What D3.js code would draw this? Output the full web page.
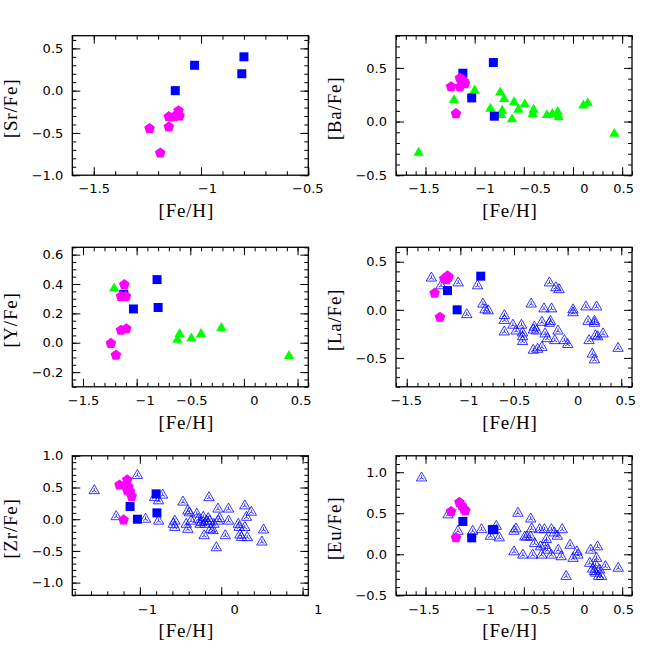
<!DOCTYPE html>
<html>
<head>
<meta charset="utf-8">
<script src="https://cdn.jsdelivr.net/npm/d3@7"></script>
<style>
body{margin:0;background:#fff;}
</style>
</head>
<body>
<svg id="mainSvg" width="667" height="667"></svg>
<script>
//Values: [ [Fe/H], [X/Fe] ] pairs
var srSquares = [[-0.80,0.40],[-0.81,0.20],[-1.03,0.30],[-1.12,0.00]];
var srPentagons = [[-1.105,-0.23],[-1.15,-0.30],[-1.125,-0.30],[-1.10,-0.29],[-1.15,-0.42],[-1.24,-0.44],[-1.19,-0.73]];

var baSquares = [[-0.81,0.55],[-1.12,0.45],[-1.03,0.22],[-0.80,0.05]];
var baPentagons = [[-1.24,0.33],[-1.15,0.41],[-1.11,0.38],[-1.10,0.36],[-1.15,0.33],[-1.13,0.40],[-1.19,0.08]];
var baTriangles = [[-1.57,-0.29],[-1.21,0.20],[-1.00,0.29],[-0.84,0.12],[-0.74,0.27],[-0.70,0.21],[-0.72,0.10],[-0.73,0.06],
    [-0.60,0.18],[-0.555,0.11],[-0.62,0.02],[-0.49,0.16],[-0.40,0.11],[-0.41,0.07],[-0.265,0.06],[-0.21,0.07],
    [-0.155,0.09],[-0.145,0.04],[0.105,0.15],[0.15,0.17],[0.42,-0.115]];

var ySquares = [[-0.81,0.43],[-0.80,0.24],[-1.03,0.23],[-1.12,0.33]];
var yPentagons = [[-1.115,0.40],[-1.146,0.32],[-1.10,0.32],[-1.146,0.09],[-1.097,0.10],[-1.24,0.00],[-1.193,-0.08]];
var yTriangles = [[-1.21,0.37],[-0.62,0.02],[-0.60,0.06],[-0.49,0.03],[-0.40,0.06],[-0.21,0.10],[0.42,-0.09]];

var laSquares = [[-0.81,0.35],[-1.12,0.20],[-1.03,0.00]];
var laPentagons = [[-1.15,0.33],[-1.11,0.345],[-1.13,0.32],[-1.12,0.36],[-1.24,0.18],[-1.19,-0.07]];
var laField = [[-1.27,0.33],[-1.18,0.25],[-1.02,0.28],[-0.84,0.25],[-0.79,0.06],[-0.77,0.00],[-0.74,-0.01],[-0.94,-0.05],
    [-0.59,-0.06],[-0.59,-0.11],[-0.59,-0.23],[-0.51,-0.16],[-0.48,-0.22],[-0.43,-0.16],[-0.42,-0.24],[-0.42,-0.28],
    [-0.42,-0.33],[-0.34,0.06],[-0.32,-0.21],[-0.31,-0.18],[-0.29,-0.22],[-0.32,-0.42],[-0.28,-0.41],[-0.24,-0.39],
    [-0.24,-0.13],[-0.22,0.01],[-0.21,-0.25],[-0.19,-0.30],[-0.17,-0.14],[-0.16,-0.12],[-0.17,0.28],[-0.15,0.01],
    [-0.12,-0.32],[-0.11,0.23],[-0.09,-0.22],[-0.08,0.21],[-0.03,-0.32],[0.00,-0.36],[0.05,0.00],[0.05,-0.03],
    [0.17,0.03],[0.19,-0.12],[0.20,-0.32],[0.23,-0.46],[0.25,-0.52],[0.25,-0.12],[0.25,-0.14],[0.26,-0.27],
    [0.27,0.03],[0.28,-0.28],[0.33,-0.25],[0.47,-0.40]];

var zrSquares = [[-0.80,0.40],[-0.79,0.10],[-1.12,0.20],[-1.03,0.00]];
var zrPentagons = [[-1.25,0.55],[-1.155,0.63],[-1.155,0.47],[-1.12,0.445],[-1.10,0.37],[-1.20,0.00],[-1.14,0.52]];
var zrField = [[-1.56,0.45],[-1.29,0.04],[-1.03,0.69],[-0.93,0.00],[-0.82,0.34],[-0.77,0.29],[-0.72,0.38],[-0.77,-0.03],
    [-0.59,-0.08],[-0.57,-0.03],[-0.57,-0.13],[-0.47,0.27],[-0.43,-0.08],[-0.41,-0.16],[-0.41,0.13],[-0.39,0.10],
    [-0.37,-0.03],[-0.30,0.08],[-0.28,0.00],[-0.26,-0.08],[-0.24,-0.05],[-0.22,0.03],[-0.21,-0.26],[-0.20,-0.08],
    [-0.18,-0.03],[-0.16,0.01],[-0.15,0.34],[-0.14,-0.03],[-0.13,-0.16],[-0.10,-0.18],[-0.09,-0.08],[-0.06,-0.45],
    [-0.04,0.16],[-0.04,-0.03],[-0.02,0.01],[0.05,-0.26],[0.09,0.16],[0.09,-0.03],[0.21,-0.08],[0.22,-0.13],
    [0.23,-0.25],[0.25,-0.29],[0.29,0.21],[0.29,-0.13],[0.31,0.03],[0.32,-0.29],[0.37,0.11],[0.52,-0.17],[0.50,-0.36]];

var euSquares = [[-1.12,0.40],[-1.03,0.20],[-0.805,0.30],[-0.82,0.30]];
var euPentagons = [[-1.24,0.53],[-1.155,0.64],[-1.13,0.60],[-1.11,0.56],[-1.095,0.54],[-1.19,0.21]];
var euField = [[-1.54,0.93],[-1.27,0.48],[-1.17,0.28],[-1.02,0.28],[-0.93,0.30],[-0.84,0.22],[-0.78,0.34],[-0.75,0.20],
    [-0.60,0.28],[-0.58,0.31],[-0.60,0.03],[-0.56,0.50],[-0.51,-0.01],[-0.49,0.21],[-0.47,0.21],[-0.43,0.43],
    [-0.42,0.31],[-0.43,0.21],[-0.41,-0.01],[-0.39,0.13],[-0.34,0.30],[-0.33,0.09],[-0.32,-0.01],[-0.29,0.30],
    [-0.28,0.11],[-0.27,0.18],[-0.26,0.05],[-0.22,-0.01],[-0.22,0.30],[-0.19,0.26],[-0.16,0.22],[-0.15,0.05],
    [-0.12,-0.03],[-0.11,0.30],[-0.07,-0.27],[-0.03,0.11],[0.00,-0.05],[0.04,0.03],[0.05,-0.01],[0.17,-0.11],
    [0.18,0.05],[0.20,-0.18],[0.22,-0.21],[0.23,-0.13],[0.24,-0.05],[0.25,0.09],[0.26,-0.27],[0.29,-0.27],
    [0.33,-0.15],[0.46,-0.17],[0.23,-0.23],[0.27,-0.19]];

//Axis titles and major tick values
var yTitles = ["[Sr/Fe]","[Ba/Fe]","[Y/Fe]","[La/Fe]","[Zr/Fe]","[Eu/Fe]"];
var xTitle = "[Fe/H]";
var srXTicks = [-1.5,-1,-0.5], srYTicks = [-1,-0.5,0,0.5];
var baXTicks = [-1.5,-1,-0.5,0,0.5], baYTicks = [-0.5,0,0.5];
var yXTicks = [-1.5,-1,-0.5,0,0.5], yYTicks = [-0.2,0,0.2,0.4,0.6];
var laXTicks = [-1.5,-1,-0.5,0,0.5], laYTicks = [-0.5,0,0.5];
var zrXTicks = [-1,0,1], zrYTicks = [-1,-0.5,0,0.5,1];
var euXTicks = [-1.5,-1,-0.5,0,0.5], euYTicks = [-0.5,0,0.5,1];

var FONT_TICK = "DejaVu Sans";
var FONT_TITLE = "Liberation Serif";

/** Constructor for one panel of the figure
 * svg: d3 selection of the main svg
 * left, top, width, height: frame of the plotting box in pixels
 */
function Panel(svg,left,top,width,height) {
    this.g = svg.append("g").attr("transform","translate("+left+","+top+")");
    this.w = width;
    this.h = height;
}

//Multiples of step inside the domain (used for the small ticks)
function minorTicks(dom,step){
    var lo = Math.ceil(dom[0]/step - 1e-6), hi = Math.floor(dom[1]/step + 1e-6);
    return d3.range(lo,hi+1).map(function (i){return +(i*step).toFixed(4)});
}

/** Draw box, ticks and labels
 * p: {xDom, yDom, xTicks, yTicks, xMinor, yMinor, yTitle, shift}
 * shift: horizontal nudge of each x label (the original plot sets them a bit off the ticks) */
Panel.prototype.axes = function (p){
    var ref = this;
    this.x = d3.scaleLinear().domain(p.xDom).range([0,this.w]);
    this.y = d3.scaleLinear().domain(p.yDom).range([this.h,0]);
    var xm = minorTicks(p.xDom,p.xMinor), ym = minorTicks(p.yDom,p.yMinor);
    var xf = d3.format("~g"), yf = d3.format(".1f");

    //small ticks on all four sides, pointing inward
    this.g.append("g").attr("transform","translate(0,"+this.h+")").call(d3.axisBottom(this.x).tickValues(xm).tickSize(-4).tickFormat(""));
    this.g.append("g").call(d3.axisTop(this.x).tickValues(xm).tickSize(-4).tickFormat(""));
    this.g.append("g").call(d3.axisLeft(this.y).tickValues(ym).tickSize(-4).tickFormat(""));
    this.g.append("g").attr("transform","translate("+this.w+",0)").call(d3.axisRight(this.y).tickValues(ym).tickSize(-4).tickFormat(""));
    //big ticks, labelled on bottom and left
    var bx = this.g.append("g").attr("class","lab").attr("transform","translate(0,"+this.h+")")
        .call(d3.axisBottom(this.x).tickValues(p.xTicks).tickSize(-8).tickPadding(9).tickFormat(xf));
    bx.selectAll(".tick text").attr("x",function (d,i){return p.shift[i]});
    this.g.append("g").call(d3.axisTop(this.x).tickValues(p.xTicks).tickSize(-8).tickFormat(""));
    this.g.append("g").attr("class","lab")
        .call(d3.axisLeft(this.y).tickValues(p.yTicks).tickSize(-8).tickPadding(9).tickFormat(yf));
    this.g.append("g").attr("transform","translate("+this.w+",0)").call(d3.axisRight(this.y).tickValues(p.yTicks).tickSize(-8).tickFormat(""));

    this.g.selectAll(".domain").remove();
    this.g.selectAll(".tick line").attr("stroke","#000").attr("stroke-width",1);
    this.g.selectAll(".lab text").style("font-family",FONT_TICK).style("font-size","13px").attr("fill","#000");

    this.g.append("rect").attr("width",this.w).attr("height",this.h)
        .style("fill","none").style("stroke","#000").style("stroke-width",1.3);

    //axis titles
    this.g.append("text").text(xTitle).attr("x",this.w/2-4).attr("y",this.h+42)
        .attr("text-anchor","middle").style("font-family",FONT_TITLE).style("font-size","19px").style("letter-spacing","0.8px");
    this.g.append("text").text(p.yTitle)
        .attr("transform","translate("+(-60+5)+","+(ref.h/2+3)+") rotate(-90)")
        .attr("text-anchor","middle").style("font-family",FONT_TITLE).style("font-size","19px").style("letter-spacing","0.8px");
}

//Marker shapes
var pentagon = (function (){
    var r = 5.6, pts = [];
    for (var i=0;i<5;i++){
        var a = -Math.PI/2 + i*2*Math.PI/5;
        pts.push([r*Math.cos(a), r*Math.sin(a)+0.7]);
    }
    return "M"+pts.join("L")+"Z";
})();
var filledTri = d3.symbol().type(d3.symbolTriangle).size(46)();
var openTri = (function (){
    //outline triangle with short lines from the centre to the corners
    var r = 6, pts = [];
    for (var i=0;i<3;i++){
        var a = -Math.PI/2 + i*2*Math.PI/3;
        pts.push([r*Math.cos(a), r*Math.sin(a)]);
    }
    var p = "M"+pts.join("L")+"Z";
    pts.forEach(function (q){ p += "M0,0L"+q[0]*0.45+","+q[1]*0.45; });
    return p;
})();

//Draw one group of points with the given path
Panel.prototype.points = function (data,path,fill,stroke,sw){
    var ref = this;
    this.g.append("g").selectAll("path").data(data).enter().append("path")
        .attr("d",path)
        .attr("transform",function (d){return "translate("+ref.x(d[0])+","+ref.y(d[1])+")"})
        .style("fill",fill).style("stroke",stroke).style("stroke-width",sw);
}

Panel.prototype.squares = function (data){
    var ref = this, s = 9;
    this.g.append("g").selectAll("rect").data(data).enter().append("rect")
        .attr("x",function (d){return ref.x(d[0])-s/2}).attr("y",function (d){return ref.y(d[1])-s/2})
        .attr("width",s).attr("height",s).style("fill","#0000ff");
}

var svg = d3.select("#mainSvg");
var colL = 72.3, colR = 396, W = 236, H = 139.5;
var rows = [35.7, 247.3, 455.8];

//[Sr/Fe]
var p1 = new Panel(svg,colL,rows[0],W,H);
p1.axes({xDom:[-1.6,-0.5],yDom:[-1,0.65],xTicks:srXTicks,yTicks:srYTicks,xMinor:0.1,yMinor:0.1,yTitle:yTitles[0],
    shift:[0,6,-1]});
p1.squares(srSquares);
p1.points(srPentagons,pentagon,"#ff00ff","none",0);

//[Ba/Fe]
var p2 = new Panel(svg,colR,rows[0],W,H);
p2.axes({xDom:[-1.8,0.6],yDom:[-0.5,0.8],xTicks:baXTicks,yTicks:baYTicks,xMinor:0.1,yMinor:0.1,yTitle:yTitles[1],
    shift:[-2,10,11,11,1]});
p2.points(baTriangles,filledTri,"#00ff00","none",0);
p2.squares(baSquares);
p2.points(baPentagons,pentagon,"#ff00ff","none",0);

//[Y/Fe]
var p3 = new Panel(svg,colL,rows[1],W,H);
p3.axes({xDom:[-1.6,0.6],yDom:[-0.3,0.65],xTicks:yXTicks,yTicks:yYTicks,xMinor:0.1,yMinor:0.05,yTitle:yTitles[2],
    shift:[0,8,1,10,3]});
p3.points(yTriangles,filledTri,"#00ff00","none",0);
p3.squares(ySquares);
p3.points(yPentagons,pentagon,"#ff00ff","none",0);

//[La/Fe]
var p4 = new Panel(svg,colR,rows[1],W,H);
p4.axes({xDom:[-1.6,0.6],yDom:[-0.8,0.65],xTicks:laXTicks,yTicks:laYTicks,xMinor:0.1,yMinor:0.1,yTitle:yTitles[3],
    shift:[-1,8,0,10,4]});
p4.points(laField,openTri,"none","#0000ff",0.8);
p4.squares(laSquares);
p4.points(laPentagons,pentagon,"#ff00ff","none",0);

//[Zr/Fe]
var p5 = new Panel(svg,colL,rows[2],W,H);
p5.axes({xDom:[-1.83,1.07],yDom:[-1.2,1.0],xTicks:zrXTicks,yTicks:zrYTicks,xMinor:0.2,yMinor:0.1,yTitle:yTitles[4],
    shift:[7,13,15]});
p5.points(zrField,openTri,"none","#0000ff",0.8);
p5.squares(zrSquares);
p5.points(zrPentagons,pentagon,"#ff00ff","none",0);

//[Eu/Fe]
var p6 = new Panel(svg,colR,rows[2],W,H);
p6.axes({xDom:[-1.8,0.6],yDom:[-0.5,1.2],xTicks:euXTicks,yTicks:euYTicks,xMinor:0.1,yMinor:0.1,yTitle:yTitles[5],
    shift:[-2,10,11,11,1]});
p6.points(euField,openTri,"none","#0000ff",0.8);
p6.squares(euSquares);
p6.points(euPentagons,pentagon,"#ff00ff","none",0);
</script>
</body>
</html>
